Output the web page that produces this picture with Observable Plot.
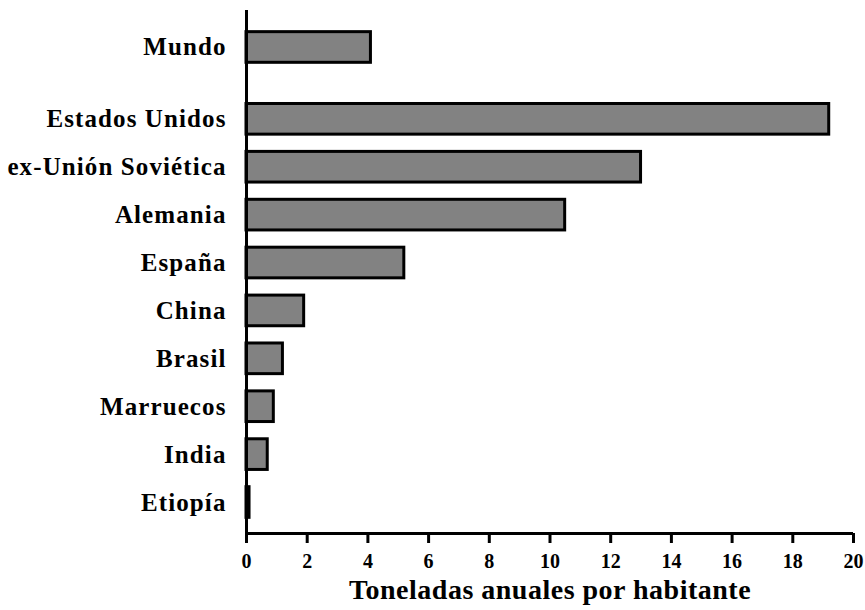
<!DOCTYPE html>
<html>
<head>
<meta charset="utf-8">
<script src="https://cdn.jsdelivr.net/npm/d3@7"></script>
<script src="https://cdn.jsdelivr.net/npm/@observablehq/plot@0.6"></script>
<style>
  html, body { margin: 0; padding: 0; background: #fff; }
  #chart svg { display: block; }
  #chart svg [aria-label="x-axis tick label"] text { font-size: 20px; font-weight: bold; }
  #chart svg [aria-label="x-axis label"] text { font-size: 28px; font-weight: bold; letter-spacing: 0.5px; }
  #chart svg g[aria-label="text"] text { letter-spacing: 1.1px; }
</style>
</head>
<body>
<div id="chart"></div>
<script>
const categories = ["Mundo", "Estados Unidos", "ex-Unión Soviética", "Alemania", "España", "China", "Brasil", "Marruecos", "India", "Etiopía"];
const values = [4.1, 19.2, 13.0, 10.5, 5.2, 1.9, 1.2, 0.9, 0.7, 0.1];
const groups = ["Mundo", "Países", "Países", "Países", "Países", "Países", "Países", "Países", "Países", "Países"];
const xTicks = [0, 2, 4, 6, 8, 10, 12, 14, 16, 18, 20];
const xLabel = "Toneladas anuales por habitante";

// row positions: one step per row, an extra half step between groups
let pos = 0;
const rows = categories.map((c, i) => {
  if (i > 0) pos += groups[i] !== groups[i - 1] ? 1.5 : 1;
  return {category: c, value: values[i], pos};
});
const halfBar = 0.32;
const yMin = -0.772, yMax = pos + 0.647;

const font = "'Liberation Serif', 'Times New Roman', serif";

const chart = Plot.plot({
  width: 865,
  height: 610,
  marginLeft: 246,
  marginRight: 12,
  marginTop: 10,
  marginBottom: 77,
  style: {fontFamily: font, background: "#fff", color: "#000"},
  x: {domain: [0, 20], ticks: xTicks},
  y: {type: "linear", domain: [yMin, yMax], reverse: true, axis: null},
  marks: [
    Plot.rectX(rows, {
      x1: 0,
      x2: "value",
      y1: d => d.pos - halfBar,
      y2: d => d.pos + halfBar,
      fill: "#828282",
      stroke: "#000",
      strokeWidth: 3
    }),
    Plot.text(rows, {
      x: 0,
      y: "pos",
      text: "category",
      textAnchor: "end",
      dx: -20,
      fontSize: 25,
      fontWeight: "bold",
      fill: "#000"
    }),
    Plot.ruleX([0], {stroke: "#000", strokeWidth: 3}),
    Plot.ruleY([yMax], {stroke: "#000", strokeWidth: 3}),
    Plot.axisX({
      ticks: xTicks,
      tickSize: 10,
      tickPadding: 10,
      tickFormat: d => String(d),
      strokeWidth: 3,
      label: xLabel,
      labelAnchor: "center",
      labelArrow: "none",
      labelOffset: 65
    })
  ]
});
document.getElementById("chart").appendChild(chart);
</script>
</body>
</html>
